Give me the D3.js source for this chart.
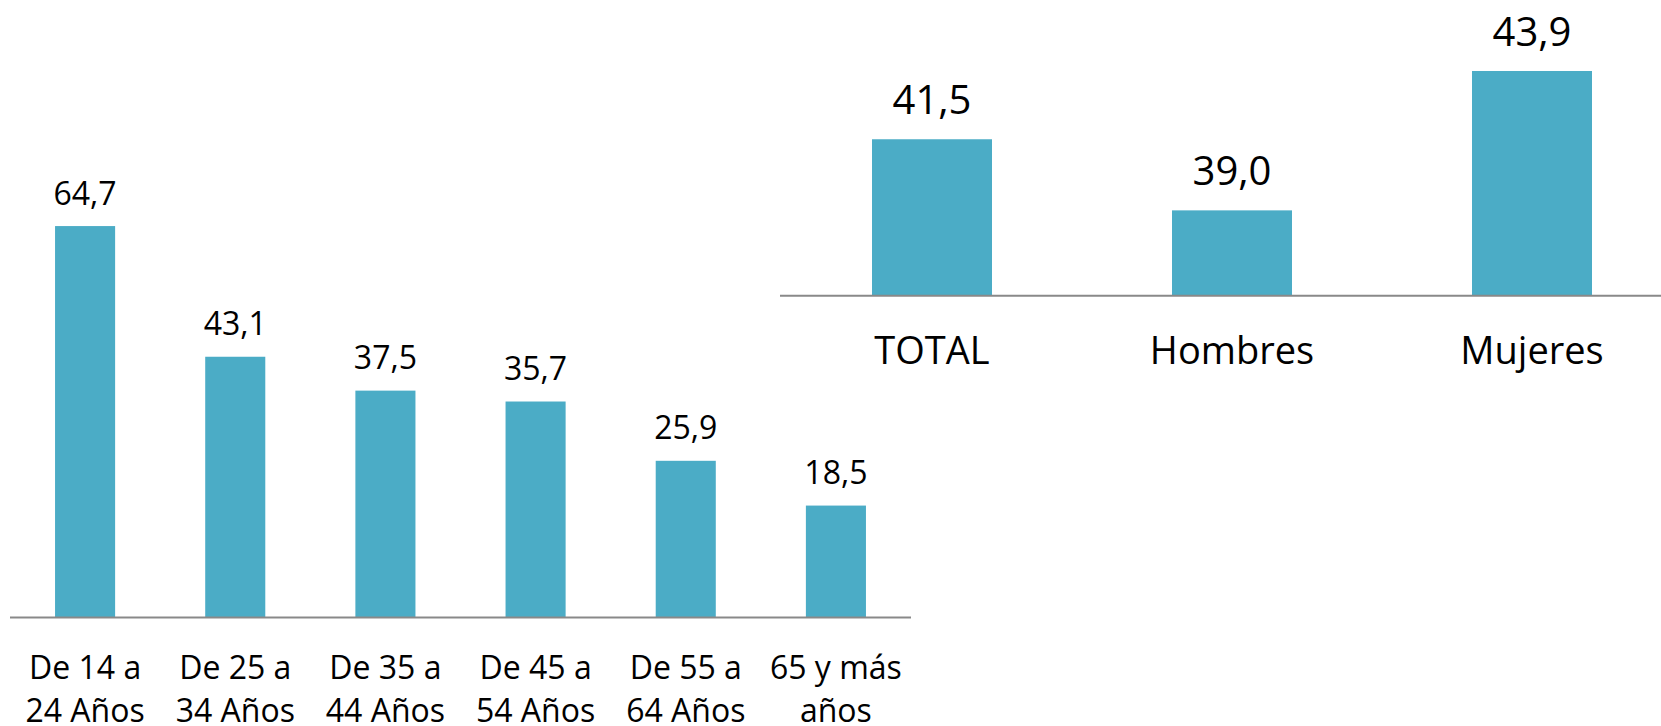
<!DOCTYPE html>
<html>
<head>
<meta charset="utf-8">
<script src="https://cdn.jsdelivr.net/npm/d3@7"></script>
<style>
  body { margin: 0; background: #fff; }
  svg { display: block; }
  text { font-family: "Open Sans", sans-serif; fill: #000; }
  .axis path { stroke: #898989; stroke-width: 2; }
  .axis line { display: none; }
</style>
</head>
<body>
<div id="data"></div>
<script>
var edades = ["De 14 a\n24 Años", "De 25 a\n34 Años", "De 35 a\n44 Años", "De 45 a\n54 Años", "De 55 a\n64 Años", "65 y más\naños"];
var edadValores = [64.7, 43.1, 37.5, 35.7, 25.9, 18.5];

var sexos = ["TOTAL", "Hombres", "Mujeres"];
var sexoValores = [41.5, 39.0, 43.9];

var color = "#4BACC6";
var fmt = function(v) { return d3.format(".1f")(v).replace(".", ","); };

var svg = d3.select("#data").append("svg").attr("width", 1661).attr("height", 726);

function makeBars(config) {
  var x = d3.scaleBand()
      .domain(config.cats)
      .range(config.xRange)
      .paddingInner(0.6)
      .paddingOuter(0.3);

  var y = d3.scaleLinear()
      .domain(config.yDomain)
      .range(config.yRange);

  var g = svg.append("g");
  var data = config.cats.map(function(c, i) { return {cat: c, value: config.values[i]}; });

  g.selectAll("rect")
    .data(data)
    .enter().append("rect")
      .attr("x", function(d) { return x(d.cat); })
      .attr("y", function(d) { return y(d.value); })
      .attr("width", x.bandwidth())
      .attr("height", function(d) { return y.range()[0] - y(d.value); })
      .attr("fill", color);

  g.selectAll(".valor")
    .data(data)
    .enter().append("text")
      .attr("class", "valor")
      .attr("x", function(d) { return x(d.cat) + x.bandwidth() / 2; })
      .attr("y", function(d) { return y(d.value) - config.labelGap; })
      .attr("text-anchor", "middle")
      .style("font-size", config.valueSize + "px")
      .text(function(d) { return fmt(d.value); });

  var axis = g.append("g")
      .attr("class", "axis")
      .attr("transform", "translate(0," + y.range()[0] + ")")
      .call(d3.axisBottom(x).tickSize(0).tickSizeOuter(0).tickFormat(""));
  axis.select(".domain").attr("d", "M" + config.lineStart + ",0H" + config.xRange[1]);

  var labels = axis.selectAll(".tick").append("text")
      .attr("y", config.catOffset)
      .attr("text-anchor", "middle")
      .style("font-size", config.catSize + "px");

  labels.each(function(d) {
    var lines = d.split("\n");
    var t = d3.select(this);
    lines.forEach(function(l, i) {
      t.append("tspan").attr("x", 0).attr("dy", i ? config.lineHeight : 0).text(l);
    });
  });
}

makeBars({
  cats: edades, values: edadValores,
  xRange: [10, 911], lineStart: 10,
  yDomain: [0, 70], yRange: [617.5, 194],
  labelGap: 21.5, valueSize: 32,
  catOffset: 61, catSize: 32, lineHeight: 43.5
});

makeBars({
  cats: sexos, values: sexoValores,
  xRange: [782, 1682], lineStart: 780,
  yDomain: [36, 45], yRange: [295.7, 39.7],
  labelGap: 25, valueSize: 40,
  catOffset: 68, catSize: 38, lineHeight: 48
});
</script>
</body>
</html>
